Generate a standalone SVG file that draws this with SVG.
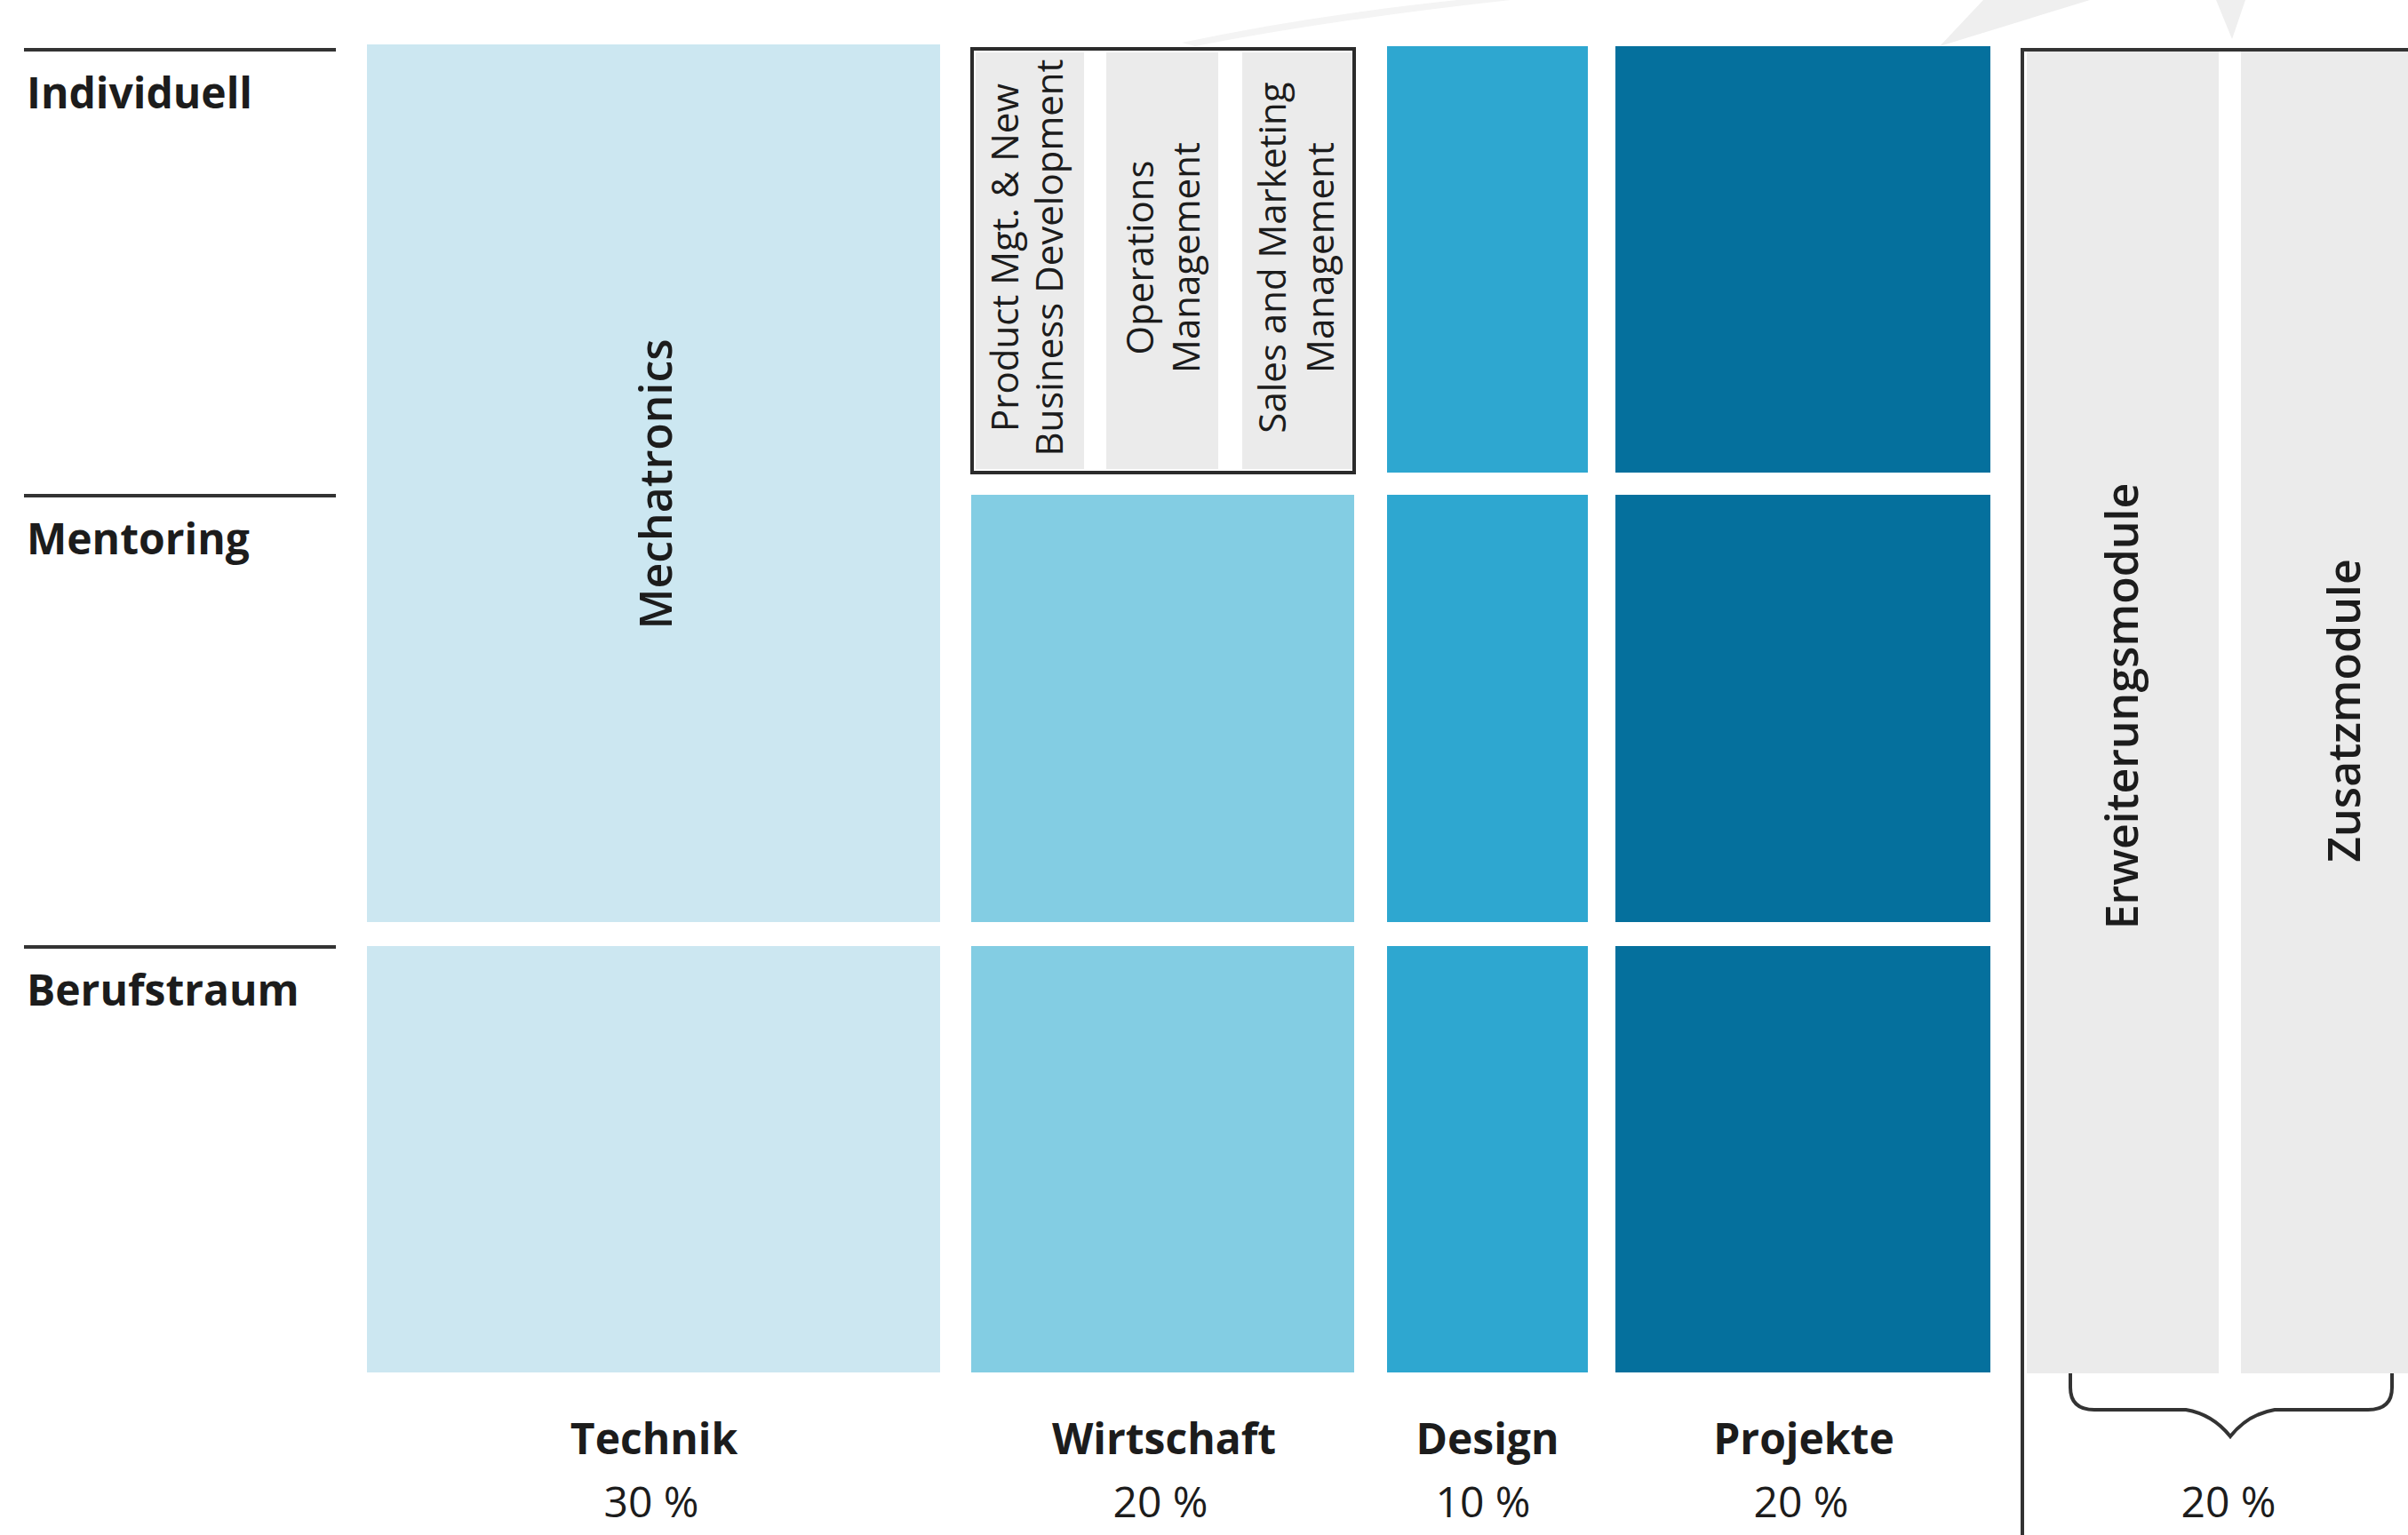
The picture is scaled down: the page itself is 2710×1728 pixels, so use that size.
<svg xmlns="http://www.w3.org/2000/svg" width="2710" height="1728" viewBox="0 0 2710 1728">
<style>
text{font-family:"Open Sans","Noto Sans","Liberation Sans",sans-serif;fill:#1c1c1c}
.rowlbl{font-size:48px;font-weight:700}
.collbl{font-size:48px;font-weight:700;text-anchor:middle}
.pct{font-size:48px;font-weight:400;text-anchor:middle}
.vt{font-size:50px;font-weight:600;text-anchor:middle}
.vs{font-size:42px;font-weight:400;text-anchor:middle}
.rule{stroke:#333;stroke-width:4;fill:none}
.c1{fill:#cce7f1}.c2{fill:#83cde3}.c3{fill:#2ea7d0}.c4{fill:#05709d}.gr{fill:#ebebeb}
</style>
<rect width="2710" height="1728" fill="#ffffff"/>
<g id="watermark">
<path d="M1330,48 Q1470,18 1640,0 L1700,0 Q1500,22 1345,52 Z" fill="#f4f4f4"/>
<polygon points="2183,52 2232,0 2352,0" fill="#efefef"/>
<polygon points="2494,0 2527,0 2512,44" fill="#efefef"/>
</g>
<g id="row-labels">
<g id="row-individuell"><line class="rule" x1="27" y1="56" x2="378" y2="56"/><text class="rowlbl" x="30" y="122">Individuell</text></g>
<g id="row-mentoring"><line class="rule" x1="27" y1="558" x2="378" y2="558" stroke="#5a5a5a"/><text class="rowlbl" x="30" y="624">Mentoring</text></g>
<g id="row-berufstraum"><line class="rule" x1="27" y1="1066" x2="378" y2="1066"/><text class="rowlbl" x="30" y="1132">Berufstraum</text></g>
</g>
<g id="technik">
<rect class="c1" x="413" y="50" width="645" height="988"/>
<rect class="c1" x="413" y="1065" width="645" height="480"/>
<text class="vt" transform="translate(756,545) rotate(-90)">Mechatronics</text>
<text class="collbl" x="736" y="1637">Technik</text>
<text class="pct" x="733" y="1708">30 %</text>
</g>
<g id="wirtschaft">
<rect x="1094" y="55" width="430" height="477" fill="#ffffff" stroke="#2b2b2b" stroke-width="4"/>
<rect class="gr" x="1098" y="59" width="122" height="469"/>
<rect class="gr" x="1245" y="59" width="126" height="469"/>
<rect class="gr" x="1398" y="59" width="124" height="469"/>
<text class="vs" transform="translate(1146,290) rotate(-90)">Product Mgt. &amp; New</text>
<text class="vs" transform="translate(1196,290) rotate(-90)">Business Development</text>
<text class="vs" transform="translate(1298,290) rotate(-90)">Operations</text>
<text class="vs" transform="translate(1350,290) rotate(-90)">Management</text>
<text class="vs" transform="translate(1447,290) rotate(-90)">Sales and Marketing</text>
<text class="vs" transform="translate(1501,290) rotate(-90)">Management</text>
<rect class="c2" x="1093" y="557" width="431" height="481"/>
<rect class="c2" x="1093" y="1065" width="431" height="480"/>
<text class="collbl" x="1310" y="1637">Wirtschaft</text>
<text class="pct" x="1306" y="1708">20 %</text>
</g>
<g id="design">
<rect class="c3" x="1561" y="52" width="226" height="480"/>
<rect class="c3" x="1561" y="557" width="226" height="481"/>
<rect class="c3" x="1561" y="1065" width="226" height="480"/>
<text class="collbl" x="1674" y="1637">Design</text>
<text class="pct" x="1669" y="1708">10 %</text>
</g>
<g id="projekte">
<rect class="c4" x="1818" y="52" width="422" height="480"/>
<rect class="c4" x="1818" y="557" width="422" height="481"/>
<rect class="c4" x="1818" y="1065" width="422" height="480"/>
<text class="collbl" x="2030" y="1637">Projekte</text>
<text class="pct" x="2027" y="1708">20 %</text>
</g>
<g id="module">
<rect class="gr" x="2281" y="58" width="216" height="1488"/>
<rect class="gr" x="2522" y="58" width="188" height="1488"/>
<text class="vt" transform="translate(2406,795) rotate(-90)">Erweiterungsmodule</text>
<text class="vt" transform="translate(2656,800) rotate(-90)">Zusatzmodule</text>
<text class="pct" x="2508" y="1708">20 %</text>
</g>
<g id="connectors">
<path class="rule" d="M2276,1728 L2276,56 L2710,56"/>
<path class="rule" d="M2330,1546 L2330,1562 Q2330,1587 2357,1587 L2460,1587 Q2490,1592 2510,1617 Q2530,1592 2560,1587 L2665,1587 Q2692,1587 2692,1562 L2692,1546"/>
</g>
</svg>
